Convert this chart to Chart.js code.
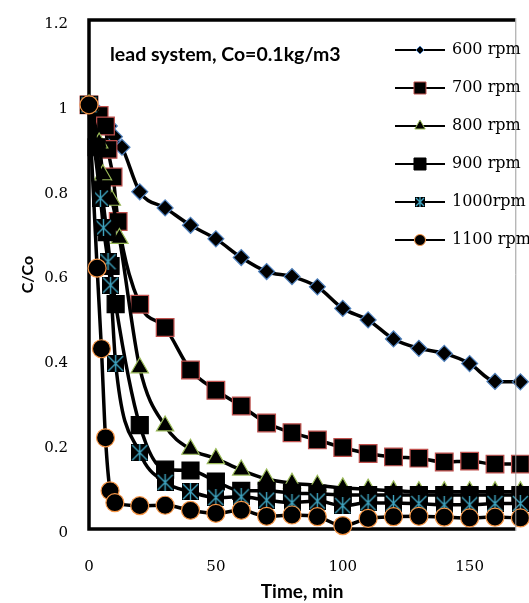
<!DOCTYPE html>
<html>
<head>
<meta charset="utf-8">
<script src="https://cdn.jsdelivr.net/npm/chart.js@4.4.0/dist/chart.umd.min.js"></script>
<style>
  html, body { margin: 0; padding: 0; background: #fff; overflow: hidden; }
  #wrap { width: 529px; height: 603px; }
</style>
</head>
<body>
<div id="wrap"><canvas id="chart" width="529" height="603"></canvas></div>
<script>
// Данные: время (мин) и C/Co для каждой скорости мешалки
const labels = ['600 rpm', '700 rpm', '800 rpm', '900 rpm', '1000rpm', '1100 rpm'];

// общие точки после 20 мин
const lateTime = [20, 30, 40, 50, 60, 70, 80, 90, 100, 110, 120, 130, 140, 150, 160, 170];

const t600 = [0, 4, 8, 10, 13].concat(lateTime);
const c600 = [1.0, 0.98, 0.95, 0.925, 0.9,
  0.795, 0.757, 0.716, 0.684, 0.64, 0.607, 0.595, 0.571, 0.52, 0.493, 0.448, 0.426, 0.414, 0.39, 0.348, 0.347];

const t700 = [0, 4, 6.5, 7.5, 9.5, 11.5].concat(lateTime);
const c700 = [1.0, 0.975, 0.95, 0.895, 0.83, 0.725,
  0.53, 0.475, 0.375, 0.327, 0.29, 0.25, 0.227, 0.21, 0.192, 0.178, 0.17, 0.167, 0.158, 0.16, 0.153, 0.153];

const t800 = [0, 4, 5.5, 9, 12].concat(lateTime);
const c800 = [1.0, 0.91, 0.835, 0.775, 0.685,
  0.38, 0.243, 0.188, 0.166, 0.139, 0.118, 0.108, 0.103, 0.097, 0.094, 0.09, 0.088, 0.088, 0.088, 0.088, 0.088];

const t900 = [0, 3, 5, 7, 8.5, 10.5].concat(lateTime);
const c900 = [1.0, 0.9, 0.8, 0.7, 0.62, 0.53,
  0.245, 0.14, 0.138, 0.112, 0.09, 0.09, 0.085, 0.083, 0.08, 0.08, 0.08, 0.08, 0.08, 0.08, 0.08, 0.08];

const t1000 = [0, 4.5, 5.7, 7.5, 8.5, 10.5].concat(lateTime);
const c1000 = [1.0, 0.78, 0.71, 0.63, 0.575, 0.39,
  0.18, 0.11, 0.088, 0.074, 0.076, 0.068, 0.062, 0.066, 0.055, 0.062, 0.061, 0.06, 0.057, 0.057, 0.06, 0.06];

const t1100 = [0, 3.2, 4.9, 6.5, 8.3, 10.2].concat(lateTime);
const c1100 = [1.0, 0.615, 0.425, 0.215, 0.09, 0.062,
  0.055, 0.056, 0.044, 0.037, 0.044, 0.03, 0.033, 0.029, 0.008, 0.025, 0.029, 0.03, 0.028, 0.026, 0.028, 0.026];

const xTicks = [0, 50, 100, 150];

// маркер "звезда" на чёрном квадрате (как в Excel)
function starMarker(size) {
    const cv = document.createElement('canvas');
    cv.width = size;
    cv.height = size;
    const g = cv.getContext('2d');
    g.fillStyle = '#000';
    g.fillRect(0, 0, size, size);
    g.strokeStyle = '#3FA4C0';
    g.lineWidth = 1.4;
    g.beginPath();
    g.moveTo(1, 1); g.lineTo(size - 1, size - 1);
    g.moveTo(size - 1, 1); g.lineTo(1, size - 1);
    g.moveTo(size / 2, 0); g.lineTo(size / 2, size);
    g.stroke();
    return cv;
}
const bigStar = starMarker(17);
const smallStar = starMarker(10);

function toPoints(t, c) {
    return t.map((x, i) => ({ x: x, y: c[i] }));
}

const styles = [
    { style: 'rectRot', r: 8, border: '#4F81BD', lr: 4 },
    { style: 'rect', r: 12.5, border: '#C0504D', lr: 8.5 },
    { style: 'triangle', r: 10, border: '#9BBB59', lr: 6 },
    { style: 'rect', r: 12, border: '#000000', lr: 8.5 },
    { style: bigStar, r: 9, border: '#3FA4C0', lr: 5 },
    { style: 'circle', r: 9, border: '#F79646', lr: 5.5 }
];
const allData = [[t600, c600], [t700, c700], [t800, c800], [t900, c900], [t1000, c1000], [t1100, c1100]];

const datasets = allData.map((d, i) => ({
    label: labels[i],
    data: toPoints(d[0], d[1]),
    borderColor: '#000',
    borderWidth: 3.5,
    cubicInterpolationMode: 'monotone',
    pointStyle: styles[i].style,
    pointRadius: styles[i].r,
    pointBackgroundColor: '#000',
    pointBorderColor: styles[i].border,
    pointBorderWidth: 1.2,
    clip: false,
    order: 6 - i  // последние серии рисуются поверх
}));

// рамка области построения
const framePlugin = {
    id: 'frame',
    beforeDatasetsDraw(chart) {
        const { ctx, chartArea: a } = chart;
        ctx.save();
        ctx.strokeStyle = '#000';
        ctx.lineWidth = 3.5;
        ctx.beginPath();
        ctx.moveTo(a.right, a.top);
        ctx.lineTo(a.left, a.top);
        ctx.lineTo(a.left, a.bottom);
        ctx.lineTo(a.right, a.bottom);
        ctx.stroke();
        ctx.restore();
    },
    afterDatasetsDraw(chart) {
        const { ctx, chartArea: a } = chart;
        ctx.save();
        ctx.strokeStyle = '#9a9a9a';
        ctx.lineWidth = 1;
        ctx.beginPath();
        ctx.moveTo(a.right + 0.5, a.top - 2);
        ctx.lineTo(a.right + 0.5, a.bottom + 2);
        ctx.stroke();
        ctx.restore();
    }
};

// подпись и легенда внутри графика
const legendPlugin = {
    id: 'innerLegend',
    afterDraw(chart) {
        const ctx = chart.ctx;
        ctx.save();
        ctx.fillStyle = '#000';
        ctx.font = 'bold 19.5px Lato';
        ctx.textBaseline = 'middle';
        ctx.fillText('lead system, Co=0.1kg/m3', 110, 55);

        chart.data.datasets.forEach((ds, i) => {
            const y = 50 + i * 38;
            ctx.strokeStyle = '#000';
            ctx.lineWidth = 2;
            ctx.beginPath();
            ctx.moveTo(395, y);
            ctx.lineTo(445, y);
            ctx.stroke();
            if (ds.pointStyle instanceof HTMLCanvasElement) {
                ctx.drawImage(smallStar, 420 - 5, y - 5, 10, 10);
            } else {
                ctx.fillStyle = '#000';
                ctx.strokeStyle = ds.pointBorderColor;
                ctx.lineWidth = 1;
                Chart.helpers.drawPoint(ctx, { pointStyle: ds.pointStyle, radius: styles[i].lr, borderWidth: 1, rotation: 0 }, 420, y);
            }
            ctx.fillStyle = '#000';
            ctx.font = '16px "DejaVu Serif"';
            ctx.textBaseline = 'middle';
            ctx.fillText(ds.label, 452, y);
        });
        ctx.restore();
    }
};

const tickFont = { family: '"DejaVu Serif"', size: 15 };

// убираем запас под половину подписи, чтобы область построения была точно на месте
function noEdgePadding(s) {
    s.paddingTop = 0;
    s.paddingBottom = 0;
    s.paddingLeft = 0;
    s.paddingRight = 0;
}

new Chart(document.getElementById('chart'), {
    type: 'line',
    data: { datasets: datasets },
    options: {
        responsive: false,
        animation: false,
        devicePixelRatio: 1,
        layout: { padding: { top: 20, right: 1, left: 0, bottom: 0 } },
        plugins: {
            legend: { display: false },
            tooltip: { enabled: false }
        },
        scales: {
            x: {
                type: 'linear',
                min: 0,
                max: 168,
                grid: { display: false, drawTicks: false },
                border: { display: false },
                afterBuildTicks: s => { s.ticks = xTicks.map(v => ({ value: v })); },
                afterFit: s => { s.height = 74; noEdgePadding(s); },
                ticks: { font: tickFont, color: '#000', padding: 29, maxRotation: 0 },
                title: {
                    display: true,
                    text: 'Time, min',
                    color: '#000',
                    font: { family: 'Lato', weight: 'bold', size: 19 },
                    padding: 0
                }
            },
            y: {
                min: 0,
                max: 1.2,
                grid: { display: false, drawTicks: false },
                border: { display: false },
                afterFit: s => { s.width = 89; noEdgePadding(s); },
                ticks: {
                    stepSize: 0.2,
                    font: tickFont,
                    color: '#000',
                    padding: 21,
                    labelOffset: 4,
                    callback: v => String(Math.round(v * 10) / 10)
                },
                title: {
                    display: true,
                    text: 'C/Co',
                    color: '#000',
                    font: { family: 'Lato', weight: 'bold', size: 16 },
                    padding: { top: 18, bottom: 0 }
                }
            }
        }
    },
    plugins: [framePlugin, legendPlugin]
});
</script>
</body>
</html>
